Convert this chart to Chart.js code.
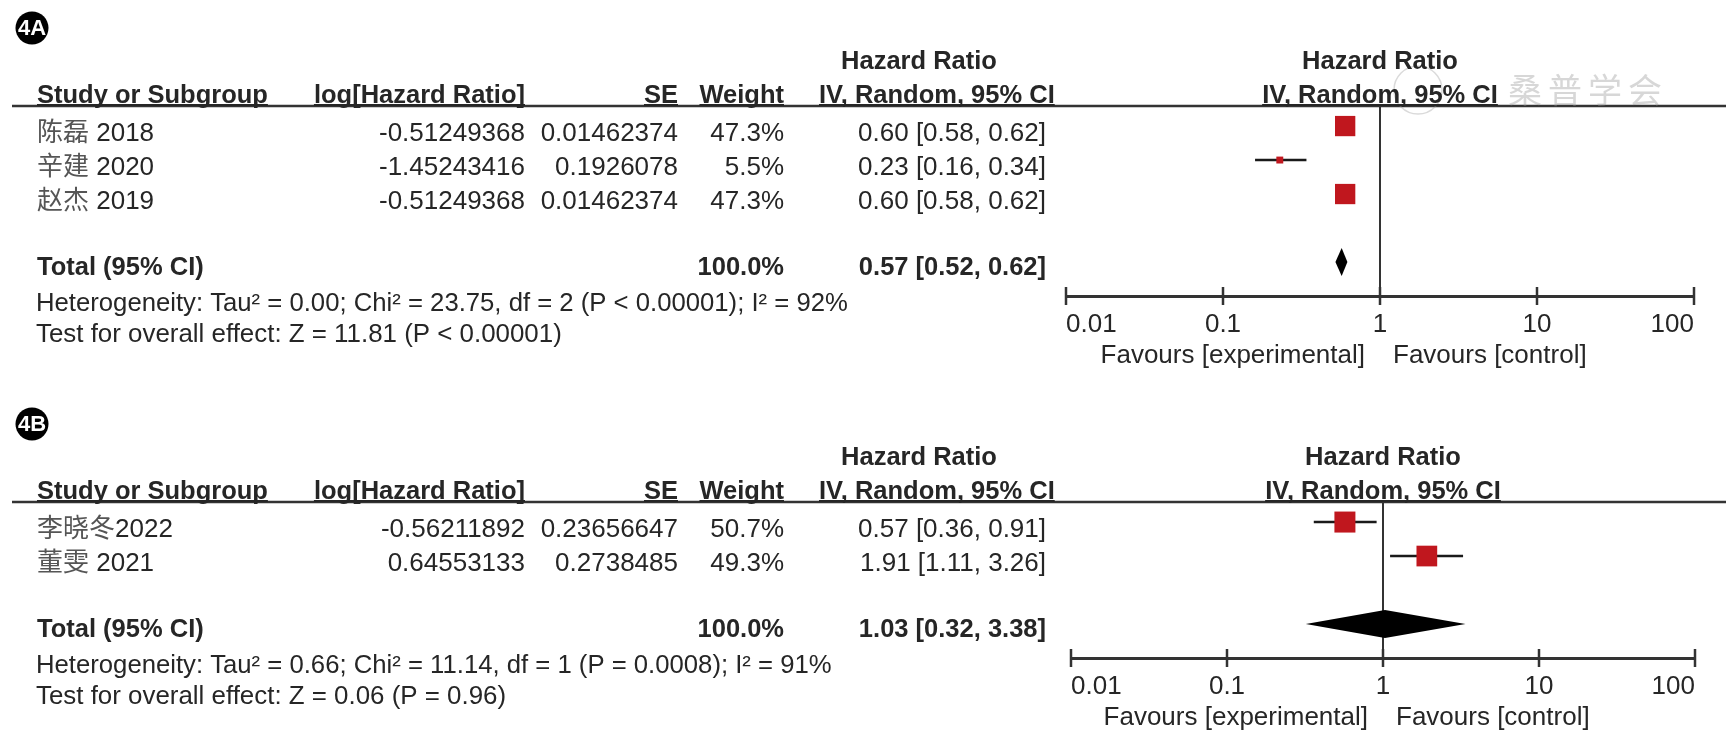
<!DOCTYPE html>
<html>
<head>
<meta charset="utf-8">
<script src="https://cdn.jsdelivr.net/npm/chart.js@4.4.0/dist/chart.umd.min.js"></script>
<style>
  body { margin: 0; background: #fff; width: 1730px; height: 746px; overflow: hidden; position: relative; }
  canvas { position: absolute; left: 0; }
  #panelA { top: 0; }
  #panelB { top: 396px; }
</style>
</head>
<body>
<canvas id="panelA" width="1730" height="396"></canvas>
<canvas id="panelB" width="1730" height="350"></canvas>
<script>
// DADOS - painel 4A
const studiesA = ["陈磊 2018", "辛建 2020", "赵杰 2019"];
const logHrA = ["-0.51249368", "-1.45243416", "-0.51249368"];
const seA = ["0.01462374", "0.1926078", "0.01462374"];
const weightA = [47.3, 5.5, 47.3];
const hrA = [0.60, 0.23, 0.60];
const loA = [0.58, 0.16, 0.58];
const hiA = [0.62, 0.34, 0.62];
const totalA = [0.57, 0.52, 0.62];
const hetA = "Heterogeneity: Tau² = 0.00; Chi² = 23.75, df = 2 (P < 0.00001); I² = 92%";
const testA = "Test for overall effect: Z = 11.81 (P < 0.00001)";

// DADOS - painel 4B
const studiesB = ["李晓冬2022", "董雯 2021"];
const logHrB = ["-0.56211892", "0.64553133"];
const seB = ["0.23656647", "0.2738485"];
const weightB = [50.7, 49.3];
const hrB = [0.57, 1.91];
const loB = [0.36, 1.11];
const hiB = [0.91, 3.26];
const totalB = [1.03, 0.32, 3.38];
const hetB = "Heterogeneity: Tau² = 0.66; Chi² = 11.14, df = 1 (P = 0.0008); I² = 91%";
const testB = "Test for overall effect: Z = 0.06 (P = 0.96)";

const totalWeight = "100.0%";
const tickValues = [0.01, 0.1, 1, 10, 100];
const tickLabels = ["0.01", "0.1", "1", "10", "100"];
const watermark = ["桑", "普", "学", "会"];

// ESTILO
const FONT = '"Liberation Sans", Arial, "Noto Sans CJK SC", sans-serif';
const TEXT = "#262626";
const RED = "#c0171e";
const SQ = 2.95; // lado do quadrado = SQ * sqrt(peso)
const COL = { name: 37, logHr: 525, se: 678, weight: 784, ci: 1046, ciHead: 819, hrHead: 919 };

function seg(ctx, x0, y0, x1, y1) {
  ctx.beginPath();
  ctx.moveTo(x0, y0);
  ctx.lineTo(x1, y1);
  ctx.stroke();
}

function txt(ctx, s, x, y, align, bold, color, size) {
  ctx.font = bold ? "bold 25.5px " + FONT : (size || 26) + "px " + FONT;
  ctx.textAlign = align || "left";
  ctx.textBaseline = "alphabetic";
  ctx.fillStyle = color || TEXT;
  ctx.fillText(s, x, y);
  return ctx.measureText(s).width;
}

function header(ctx, s, x, y, align) {
  const w = txt(ctx, s, x, y, align, true);
  const x0 = align === "right" ? x - w : align === "center" ? x - w / 2 : x;
  ctx.fillStyle = TEXT;
  ctx.fillRect(x0, y + 1, w, 2);
}

function studyName(ctx, s, x, y) {
  const m = s.match(/^([^\x00-\x7f]+)(.*)$/);
  if (!m) return txt(ctx, s, x, y, "left");
  const w = txt(ctx, m[1], x, y, "left", false, "#555");
  txt(ctx, m[2], x + w, y, "left");
}

function fmtCI(v) {
  return v[0].toFixed(2) + " [" + v[1].toFixed(2) + ", " + v[2].toFixed(2) + "]";
}

function forestPlugin(p) {
  return {
    id: "forest",
    beforeDatasetsDraw(chart) {
      const { ctx, chartArea: a, scales: { x, y } } = chart;
      const x1 = x.getPixelForValue(1);
      ctx.save();
      // linha vertical em 1
      ctx.strokeStyle = "#333";
      ctx.lineWidth = 2;
      seg(ctx, x1, a.top, x1, a.bottom);
      // intervalos de confianca
      ctx.strokeStyle = "#1a1a1a";
      ctx.lineWidth = 2.5;
      p.lo.forEach((lo, i) => {
        const yy = y.getPixelForValue(i);
        seg(ctx, x.getPixelForValue(lo), yy, x.getPixelForValue(p.hi[i]), yy);
      });
      // diamante do total
      const ty = y.getPixelForValue(p.studies.length + 1);
      ctx.fillStyle = "#000";
      ctx.beginPath();
      ctx.moveTo(x.getPixelForValue(p.total[1]), ty);
      ctx.lineTo(x.getPixelForValue(p.total[0]), ty - 14);
      ctx.lineTo(x.getPixelForValue(p.total[2]), ty);
      ctx.lineTo(x.getPixelForValue(p.total[0]), ty + 14);
      ctx.closePath();
      ctx.fill();
      ctx.restore();
    },
    afterDraw(chart) {
      const { ctx, chartArea: a, scales: { x, y } } = chart;
      const top = a.top, bot = a.bottom;
      const x1 = x.getPixelForValue(1);
      ctx.save();

      // marcas do eixo
      ctx.strokeStyle = "#333";
      ctx.lineWidth = 2.5;
      tickValues.forEach((v) => {
        const px = x.getPixelForValue(v);
        seg(ctx, px, bot - 9, px, bot + 9);
      });

      // linha do cabecalho
      ctx.lineWidth = 2.5;
      seg(ctx, 12, top, 1726, top);

      // marca d'agua
      if (p.watermark) {
        ctx.strokeStyle = "rgba(150,150,150,0.35)";
        ctx.lineWidth = 1.5;
        ctx.beginPath();
        ctx.arc(1418, top - 16, 24, 0, Math.PI * 2);
        ctx.stroke();
        ctx.font = '34px "Noto Sans CJK SC", sans-serif';
        ctx.textAlign = "left";
        ctx.textBaseline = "middle";
        ctx.fillStyle = "rgba(150,150,150,0.38)";
        watermark.forEach((c, i) => ctx.fillText(c, 1508 + i * 40, top - 16));
      }

      // selo do painel
      ctx.fillStyle = "#000";
      ctx.beginPath();
      ctx.arc(32, top - 78, 16.5, 0, Math.PI * 2);
      ctx.fill();
      ctx.font = 'bold 22px "Liberation Sans Narrow", "Liberation Sans", sans-serif';
      ctx.textAlign = "center";
      ctx.textBaseline = "middle";
      ctx.fillStyle = "#fff";
      ctx.fillText(p.tag, 32, top - 77);

      // cabecalhos
      txt(ctx, "Hazard Ratio", COL.hrHead, top - 37, "center", true);
      txt(ctx, "Hazard Ratio", x1, top - 37, "center", true);
      header(ctx, "Study or Subgroup", COL.name, top - 3, "left");
      header(ctx, "log[Hazard Ratio]", COL.logHr, top - 3, "right");
      header(ctx, "SE", COL.se, top - 3, "right");
      header(ctx, "Weight", COL.weight, top - 3, "right");
      header(ctx, "IV, Random, 95% CI", COL.ciHead, top - 3, "left");
      header(ctx, "IV, Random, 95% CI", x1, top - 3, "center");

      // linhas dos estudos
      p.studies.forEach((s, i) => {
        const by = y.getPixelForValue(i) + 15;
        studyName(ctx, s, COL.name, by);
        txt(ctx, p.logHr[i], COL.logHr, by, "right");
        txt(ctx, p.se[i], COL.se, by, "right");
        txt(ctx, p.weight[i].toFixed(1) + "%", COL.weight, by, "right");
        txt(ctx, fmtCI([p.hr[i], p.lo[i], p.hi[i]]), COL.ci, by, "right");
      });

      // total
      const tb = y.getPixelForValue(p.studies.length + 1) + 13;
      txt(ctx, "Total (95% CI)", COL.name, tb, "left", true);
      txt(ctx, totalWeight, COL.weight, tb, "right", true);
      txt(ctx, fmtCI(p.total), COL.ci, tb, "right", true);

      // heterogeneidade e teste
      txt(ctx, p.het, COL.name - 1, bot + 15, "left", false, TEXT, 25.7);
      txt(ctx, p.test, COL.name - 1, bot + 46, "left", false, TEXT, 25.9);

      // favours
      txt(ctx, "Favours [experimental]", x1 - 15, bot + 67, "right");
      txt(ctx, "Favours [control]", x1 + 13, bot + 67, "left");

      ctx.restore();
    },
  };
}

function makeChart(id, p, pad) {
  const n = p.studies.length;
  return new Chart(document.getElementById(id), {
    type: "scatter",
    data: {
      datasets: [
        {
          data: p.hr.map((v, i) => ({ x: v, y: i })),
          pointStyle: "rect",
          pointRadius: p.weight.map((w) => (SQ * Math.sqrt(w)) / Math.SQRT2),
          backgroundColor: RED,
          borderWidth: 0,
        },
      ],
    },
    options: {
      responsive: false,
      animation: false,
      events: [],
      devicePixelRatio: 1,
      layout: { padding: pad },
      plugins: { legend: { display: false }, tooltip: { enabled: false } },
      scales: {
        x: {
          type: "logarithmic",
          position: "bottom",
          min: 0.01,
          max: 100,
          afterBuildTicks: (s) => {
            s.ticks = tickValues.map((v) => ({ value: v }));
          },
          afterFit: (s) => {
            s.height = 80;
          },
          grid: { display: true, drawOnChartArea: false, drawTicks: false },
          border: { display: true, width: 3, color: "#333" },
          ticks: {
            align: "inner",
            padding: 13,
            color: TEXT,
            maxRotation: 0,
            autoSkip: false,
            font: { family: FONT, size: 26 },
            callback: (v, i) => tickLabels[i],
          },
        },
        y: { type: "linear", reverse: true, min: -0.59, max: n + 2, display: false },
      },
    },
    plugins: [forestPlugin(p)],
  });
}

makeChart(
  "panelA",
  { tag: "4A", studies: studiesA, logHr: logHrA, se: seA, weight: weightA, hr: hrA, lo: loA, hi: hiA,
    total: totalA, het: hetA, test: testA, watermark: true },
  { top: 106, left: 1066, right: 36, bottom: 20 }
);

makeChart(
  "panelB",
  { tag: "4B", studies: studiesB, logHr: logHrB, se: seB, weight: weightB, hr: hrB, lo: loB, hi: hiB,
    total: totalB, het: hetB, test: testB, watermark: false },
  { top: 106, left: 1071, right: 35, bottom: 8 }
);
</script>
</body>
</html>
